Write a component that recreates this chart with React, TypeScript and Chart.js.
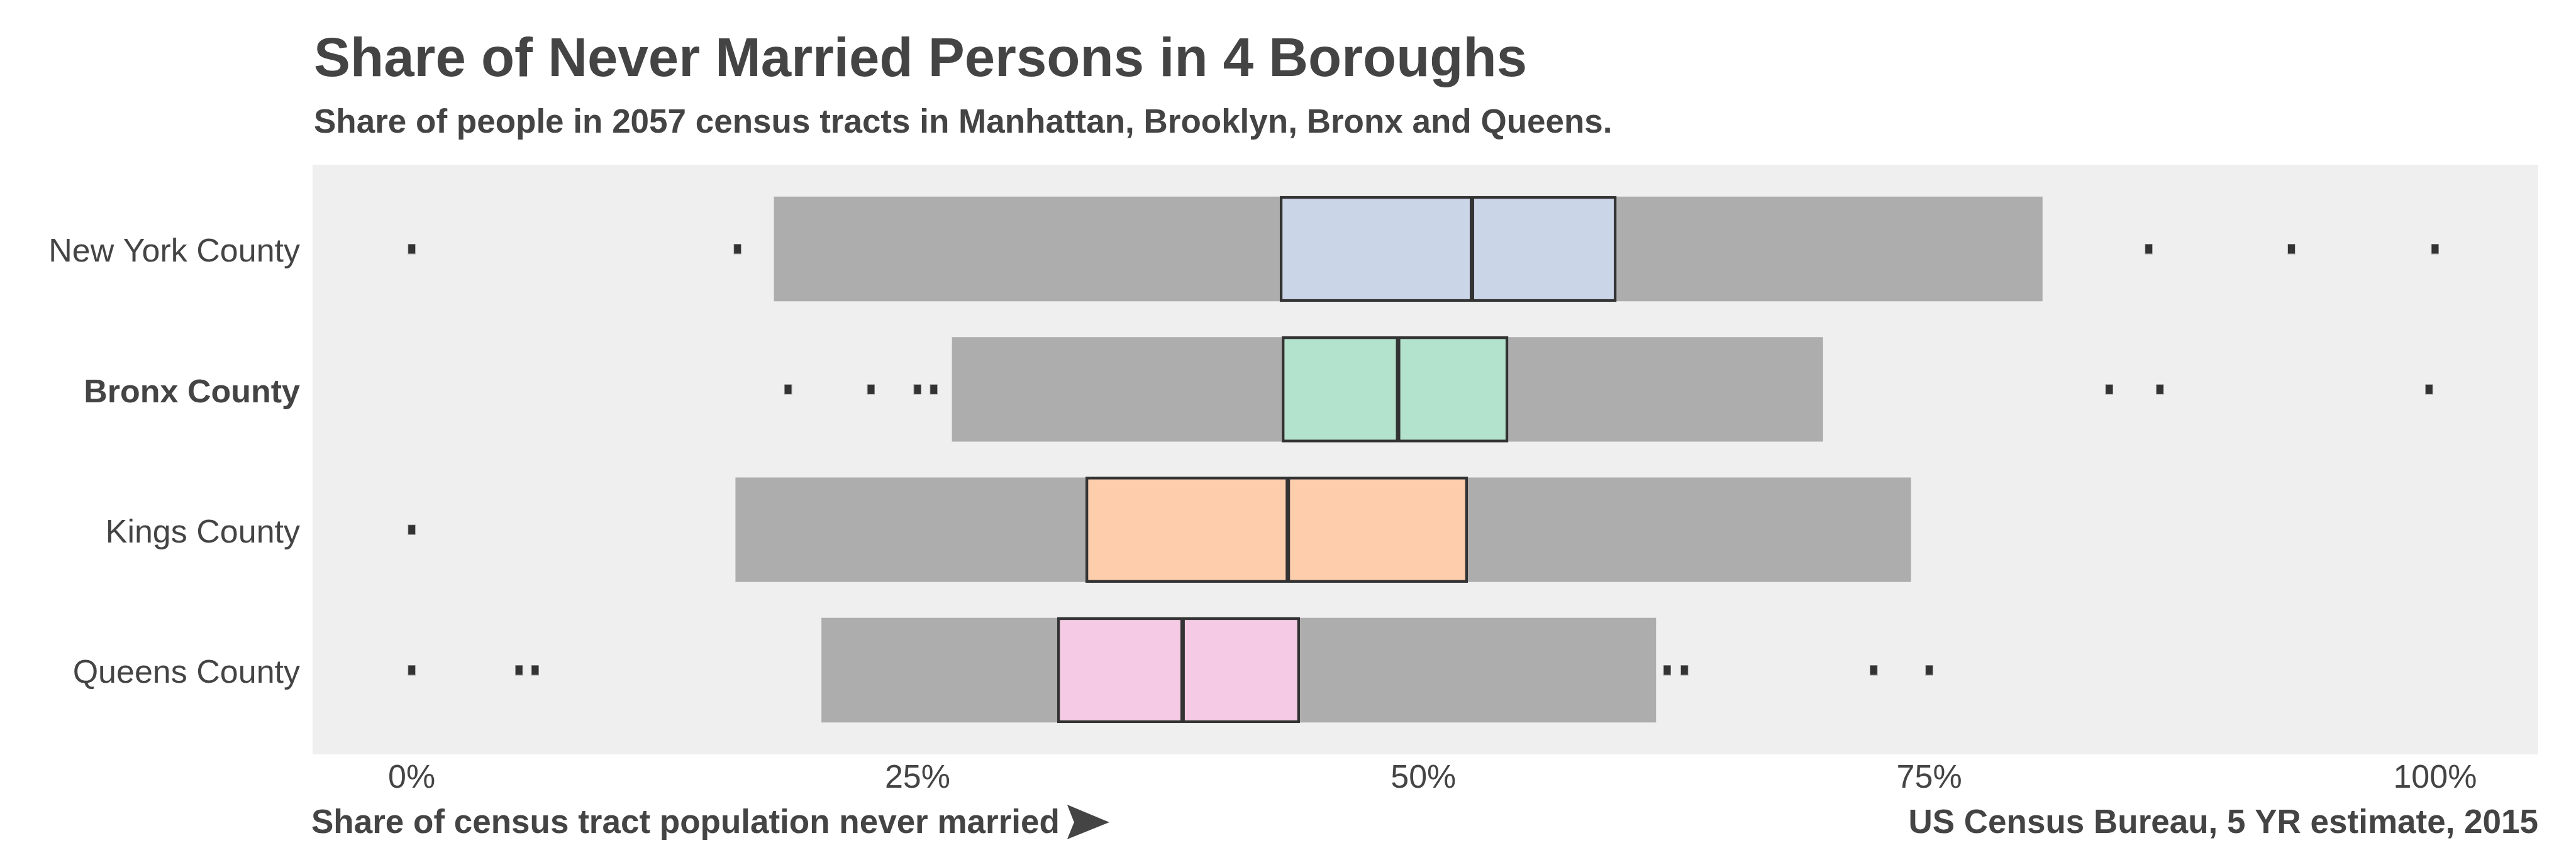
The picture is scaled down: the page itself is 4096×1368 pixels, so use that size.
import React, { useEffect, useRef } from 'react';
import { Chart, registerables } from 'chart.js';

Chart.register(...registerables);

const counties = ['New York County', 'Bronx County', 'Kings County', 'Queens County'];
const highlightedCounty = 'Bronx County';
const whiskerLow = [17.9, 26.7, 16.0, 20.25];
const whiskerHigh = [80.6, 69.75, 74.1, 61.5];
const q1Values = [42.9, 43.0, 33.3, 31.9];
const medianValues = [52.4, 48.75, 43.3, 38.1];
const q3Values = [59.55, 54.2, 52.2, 43.9];
const boxColors = ['#cbd5e8', '#b3e2cd', '#fdcdac', '#f4cae4'];
const outliersNewYork = [0, 16.1, 85.85, 92.9, 100];
const outliersBronx = [18.6, 22.7, 25.0, 25.8, 83.9, 86.4, 99.7];
const outliersKings = [0];
const outliersQueens = [0, 5.3, 6.1, 62.05, 62.9, 72.25, 75.0];
const xTickValues = [0, 25, 50, 75, 100];

const titleText = 'Share of Never Married Persons in 4 Boroughs';
const subtitleText = 'Share of people in 2057 census tracts in Manhattan, Brooklyn, Bronx and Queens.';
const xAxisText = 'Share of census tract population never married';
const sourceText = 'US Census Bureau, 5 YR estimate, 2015';

const FONT = '"Liberation Sans", Helvetica, Arial, sans-serif';
const TEXT_COLOR = '#444444';
const W = 4096;
const H = 1368;

const textPlugin = {
  id: 'textPlugin',
  beforeDraw(chart: any) {
    const { ctx, chartArea } = chart;
    ctx.save();
    ctx.fillStyle = '#efefef';
    ctx.fillRect(chartArea.left, chartArea.top, chartArea.right - chartArea.left, chartArea.bottom - chartArea.top);
    ctx.restore();
  },
  afterDraw(chart: any) {
    const { ctx, chartArea } = chart;
    ctx.save();
    ctx.fillStyle = TEXT_COLOR;
    ctx.textBaseline = 'alphabetic';
    ctx.textAlign = 'left';
    ctx.font = `bold 87px ${FONT}`;
    ctx.fillText(titleText, chartArea.left + 2, 121);
    ctx.font = `bold 53px ${FONT}`;
    ctx.fillText(subtitleText, chartArea.left + 2, 211);
    ctx.font = `bold 53px ${FONT}`;
    ctx.fillText(xAxisText, chartArea.left - 2, 1325);
    const tw = ctx.measureText(xAxisText).width;
    const ax = chartArea.left - 2 + tw + 12;
    ctx.beginPath();
    ctx.moveTo(ax, 1280);
    ctx.lineTo(ax + 67, 1308);
    ctx.lineTo(ax, 1335);
    ctx.lineTo(ax + 11, 1308);
    ctx.closePath();
    ctx.fill();
    ctx.textAlign = 'right';
    ctx.fillText(sourceText, chartArea.right, 1325);
    ctx.restore();
  },
};

export default function App() {
  const canvasRef = useRef<HTMLCanvasElement | null>(null);

  useEffect(() => {
    const canvas = canvasRef.current;
    if (!canvas) return;

    const marker = document.createElement('canvas');
    marker.width = 13;
    marker.height = 17;
    const mctx = marker.getContext('2d');
    if (mctx) {
      mctx.fillStyle = '#c8c8c8';
      mctx.fillRect(0, 0, 13, 17);
      mctx.fillStyle = '#333333';
      mctx.fillRect(1, 1, 11, 15);
    }

    const outlierPoints: { x: number; y: number }[] = [];
    [outliersNewYork, outliersBronx, outliersKings, outliersQueens].forEach((arr, i) => {
      arr.forEach((v) => outlierPoints.push({ x: v, y: i }));
    });

    const chart = new Chart(canvas, {
      type: 'bar',
      data: {
        datasets: [
          {
            type: 'scatter',
            label: 'Outliers',
            data: outlierPoints,
            pointStyle: marker as any,
            pointRadius: 7,
            order: 0,
          } as any,
          {
            type: 'scatter',
            label: 'Median',
            data: medianValues.map((v, i) => ({ x: v, y: i })),
            pointStyle: 'line',
            rotation: 90,
            pointRadius: 82,
            borderColor: '#333333',
            borderWidth: 7,
            order: 1,
          } as any,
          {
            type: 'bar',
            label: 'IQR',
            data: q1Values.map((v, i) => ({ x: [v, q3Values[i]], y: i })),
            backgroundColor: boxColors,
            borderColor: '#333333',
            borderWidth: 4.5,
            borderSkipped: false,
            grouped: false,
            barPercentage: 0.755,
            categoryPercentage: 1,
            order: 2,
          } as any,
          {
            type: 'bar',
            label: 'Range',
            data: whiskerLow.map((v, i) => ({ x: [v, whiskerHigh[i]], y: i })),
            backgroundColor: '#adadad',
            borderWidth: 0,
            grouped: false,
            barPercentage: 0.745,
            categoryPercentage: 1,
            order: 3,
          } as any,
        ],
      },
      options: {
        indexAxis: 'y',
        animation: false,
        responsive: false,
        maintainAspectRatio: false,
        devicePixelRatio: 1,
        layout: { autoPadding: false, padding: { top: 262, right: 60, left: 0, bottom: 0 } },
        plugins: {
          legend: { display: false },
          tooltip: { enabled: false },
          title: { display: false },
        },
        scales: {
          x: {
            type: 'linear',
            min: -4.9,
            max: 105.1,
            offset: false,
            grid: { display: false, drawTicks: false },
            border: { display: false },
            afterBuildTicks: (scale: any) => {
              scale.ticks = xTickValues.map((value) => ({ value }));
            },
            afterFit: (scale: any) => {
              scale.height = H - 1200;
              scale.paddingLeft = 0;
              scale.paddingRight = 0;
            },
            ticks: {
              autoSkip: false,
              maxRotation: 0,
              padding: 7,
              color: TEXT_COLOR,
              font: { family: FONT, size: 52 },
              callback: (value: any) => `${value}%`,
            },
          },
          y: {
            type: 'linear',
            min: -0.6,
            max: 3.6,
            reverse: true,
            offset: false,
            grid: { display: false, drawTicks: false },
            border: { display: false },
            afterBuildTicks: (scale: any) => {
              scale.ticks = counties.map((_, i) => ({ value: i }));
            },
            afterFit: (scale: any) => {
              scale.width = 497;
              scale.paddingTop = 0;
              scale.paddingBottom = 0;
            },
            ticks: {
              autoSkip: false,
              padding: 20,
              labelOffset: 6,
              color: TEXT_COLOR,
              font: (ctx: any) => ({
                family: FONT,
                size: 52,
                weight: ctx.tick && counties[ctx.tick.value] === highlightedCounty ? 'bold' : 'normal',
              }),
              callback: (value: any) => counties[value as number] ?? '',
            },
          },
        },
      },
      plugins: [textPlugin],
    });

    return () => chart.destroy();
  }, []);

  return (
    <div style={{ position: 'absolute', left: 0, top: 0, width: W, height: H, background: '#ffffff' }}>
      <canvas ref={canvasRef} width={W} height={H} style={{ width: W, height: H, display: 'block' }} />
    </div>
  );
}
